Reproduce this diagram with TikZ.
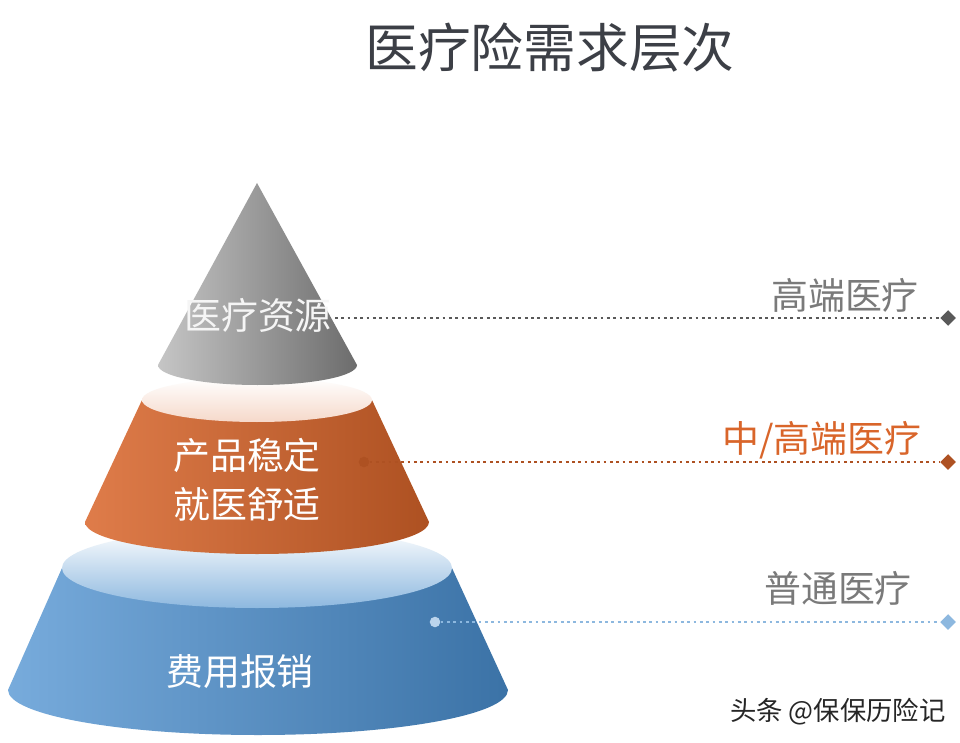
\documentclass[tikz,border=0pt]{standalone}
\usepackage{fontspec}
\setmainfont{Noto Sans CJK SC}
\usetikzlibrary{shapes.geometric}
\definecolor{tgray}{HTML}{3C3F46}
\definecolor{lgray}{HTML}{7A7A7A}
\definecolor{org}{HTML}{D9652A}
\definecolor{blu}{HTML}{4A8FD0}
\definecolor{lblu}{HTML}{8DB8DF}
\tikzset{
  lab/.style={font=\fontsize{21}{26}\selectfont, text=lgray},
  inlab/.style={font=\fontsize{21}{28}\selectfont, text=white, align=center},
  dotl/.style={dotted, line width=1.6pt},
  dia/.style={diamond, minimum width=9pt, minimum height=9pt, inner sep=0pt},
}
\begin{document}
\begin{tikzpicture}[x=0.02cm,y=-0.02cm]
\useasboundingbox (0,0) rectangle (960,743);
\fill[white] (0,0) rectangle (960,743);
\node[font=\fontsize{30}{34}\selectfont, text=tgray] (title) at (550,48) {医疗险需求层次};
% blue frustum
\shade[left color=blu!75!white, right color=blu!80!black]
  (62,568) -- (8,690) arc[start angle=180,end angle=0,x radius=250,y radius=45] -- (452,568) -- cycle;
\shade[top color=white, bottom color=lblu] (257,568) ellipse [x radius=195, y radius=40];
% orange frustum
\shade[left color=org!85!white, right color=org!80!black]
  (142,400) -- (85,522) arc[start angle=180,end angle=0,x radius=172,y radius=32] -- (372,400) -- cycle;
\shade[top color=white, bottom color=org!25!white] (257,400) ellipse [x radius=115, y radius=22];
% gray cone
\shade[left color=gray!45, right color=gray!85!black]
  (257,183) -- (158,365) arc[start angle=180,end angle=0,x radius=99.5,y radius=20] -- cycle;
\node[inlab, text=white!92!gray] (t1) at (258,315) {医疗资源};
\node[inlab] (t2) at (247,480) {产品稳定\\就医舒适};
\node[inlab] (t3) at (240,672) {费用报销};
% leader lines
\coordinate (s1) at (335,318);
\node[dia, fill=gray!70!black] (d1) at (948,318) {};
\draw[dotl, color=gray!70!black] (s1) -- (d1);
\node[circle, fill=org!80!black, inner sep=0pt, minimum size=6pt] (s2) at (364,462) {};
\node[dia, fill=org!80!black] (d2) at (948,462) {};
\draw[dotl, color=org!80!black] (s2) -- (d2);
\node[circle, fill=lblu!60!white, inner sep=0pt, minimum size=6pt] (s3) at (435,622) {};
\node[dia, fill=lblu] (d3) at (948,622) {};
\draw[dotl, color=lblu] (s3) -- (d3);
\node[lab] (l1) at (845,295) {高端医疗};
\node[lab, text=org] (l2) at (822,440) {中/高端医疗};
\node[lab] (l3) at (838,588) {普通医疗};
\node[font=\fontsize{15}{18}\selectfont, text=black!85] (wm) at (838,712) {头条 @保保历险记};
\end{tikzpicture}
\end{document}
